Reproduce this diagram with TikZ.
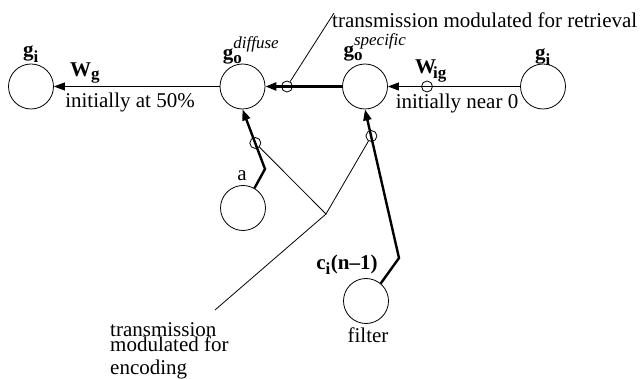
\documentclass[tikz,border=0pt]{standalone}
\usepackage{fontspec}
\usepackage{amsmath}
\setmainfont{Liberation Serif}
\DeclareMathSizes{21}{21}{17}{13}
\usetikzlibrary{arrows.meta}
\begin{document}
\begin{tikzpicture}[x=1pt,y=-1pt, font=\fontsize{21}{24}\selectfont,
 big/.style={circle,draw,line width=0.8pt,minimum size=45pt,inner sep=0pt},
 smallc/.style={circle,draw,line width=0.8pt,minimum size=11pt,inner sep=0pt},
 thinl/.style={line width=0.8pt},
 thickl/.style={line width=2.4pt},
 tip/.style={-{Triangle[length=11pt,width=8pt]}},
 lbl/.style={inner sep=0pt}]
\useasboundingbox (0,0) rectangle (642,379);
% main circles
\node[big] (gl) at (31,86.5) {};
\node[big] (gd) at (242.5,86.5) {};
\node[big] (gs) at (365,86.5) {};
\node[big] (gr) at (543,86.5) {};
\node[big] (ca) at (243,208) {};
\node[big] (cf) at (366,301) {};
% labels
\node[lbl] (lgl) at (31,54) {$\text{\bfseries g}_{\text{\bfseries i}}$};
\node[lbl] (lwg) at (85,73) {$\text{\bfseries W}_{\text{\bfseries g}}$};
\node[lbl] (lia) at (130,102) {initially at 50\%};
\node[lbl] (lgd) at (251,50) {$\text{\bfseries g}_{\text{\bfseries o}}^{\text{\itshape diffuse}}$};
\node[lbl] (lgs) at (375,47) {$\text{\bfseries g}_{\text{\bfseries o}}^{\text{\itshape specific}}$};
\node[lbl] (lwig) at (431,71) {$\text{\bfseries W}_{\!\text{\bfseries ig}}$};
\node[lbl] (lin) at (457,103) {initially near 0};
\node[lbl] (lgr) at (543,57) {$\text{\bfseries g}_{\text{\bfseries i}}$};
\node[lbl] (la) at (242,176) {a};
\node[lbl] (lc) at (347,265) {$\text{\bfseries c}_{\text{\bfseries i}}\text{\bfseries (n--1)}$};
\node[lbl] (lf) at (368,335) {filter};
\node[lbl,anchor=west] (tr) at (332,20) {transmission modulated for retrieval};
\node[lbl,anchor=base west] (e1) at (110,336) {transmission};
\node[lbl,anchor=base west] (e2) at (110,351) {modulated for};
\node[lbl,anchor=base west] (e3) at (110,374) {encoding};
% horizontal connectors
\draw[thinl,tip] (gd) -- (gl);
\draw[thickl,tip] (gs) -- (gd);
\draw[thinl,tip] (gr) -- (gs);
\node[smallc] (sr) at (287,86.5) {};
\node[smallc] (sw) at (427,86.5) {};
% inputs from below
\coordinate (ka) at (265,169);
\draw[thickl,tip] (ca.60) -- (ka) -- (gd.south);
\node[smallc] (sa) at (255.3,143) {};
\coordinate (kf) at (399,258);
\draw[thickl,tip] (cf.50) -- (kf) -- (gs.south);
\node[smallc] (sf) at (371.4,136) {};
% annotation lines
\coordinate (v) at (326,214);
\coordinate (ee) at (215,310);
\draw[thinl] (sa) -- (v) -- (sf);
\draw[thinl] (v) -- (ee);
\coordinate (rt) at (334,13);
\draw[thinl] (sr) -- (rt);
\end{tikzpicture}
\end{document}
